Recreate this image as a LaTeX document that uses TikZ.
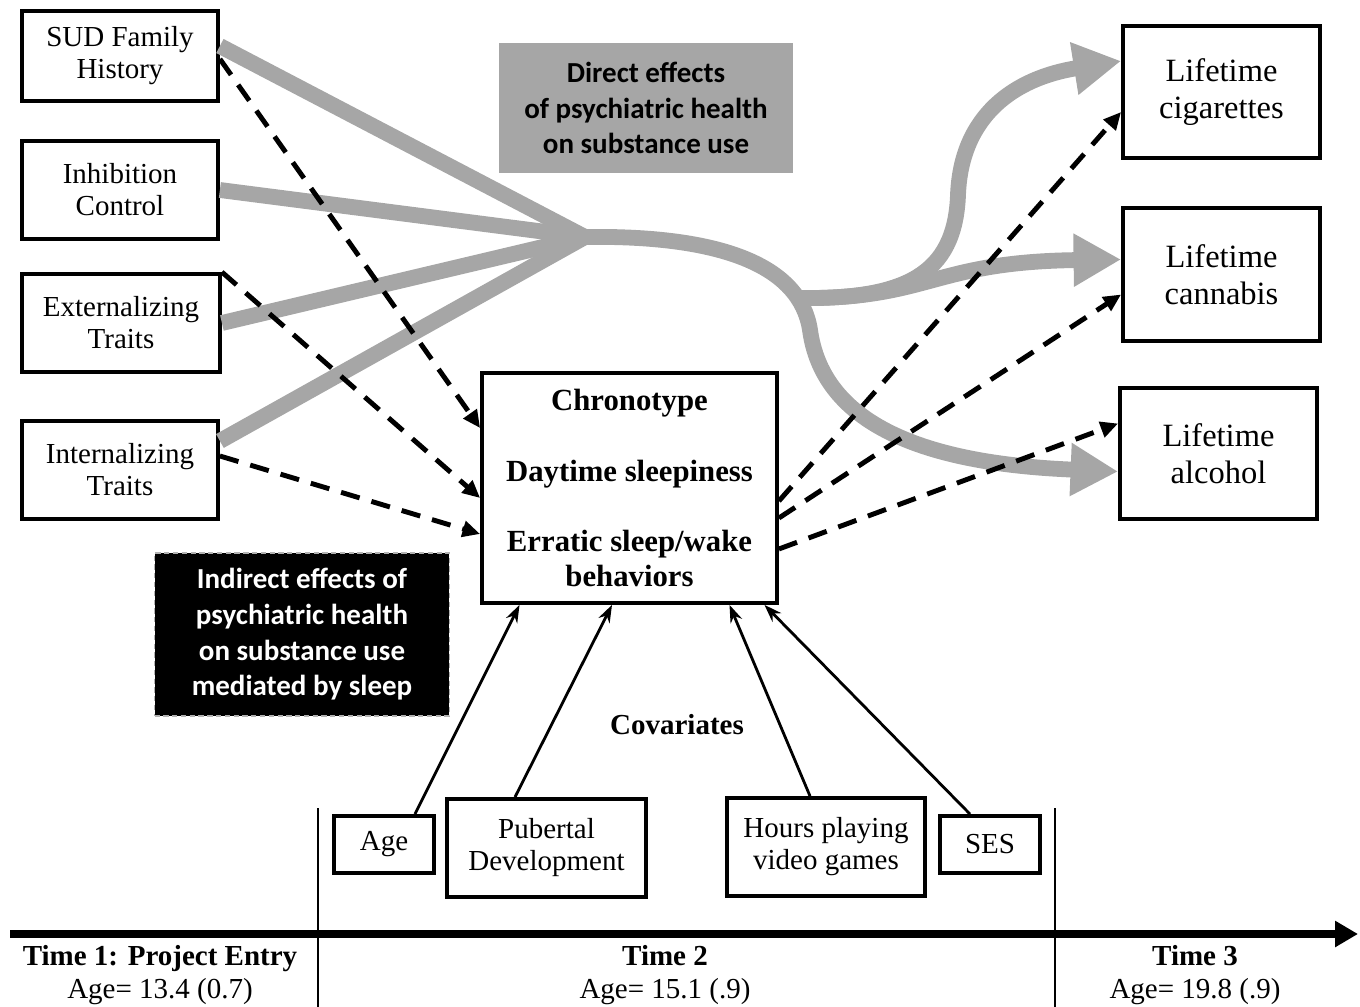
\documentclass[tikz,border=0pt]{standalone}
\usepackage{fontspec}
\setmainfont{Liberation Serif}
\newfontfamily\calibfont{Carlito}
\usetikzlibrary{arrows.meta,calc,positioning}
\definecolor{pathgray}{RGB}{166,166,166}

\begin{document}
\begin{tikzpicture}[x=0.02cm,y=-0.02cm,
  varbox/.style={draw,line width=2.2pt,align=center,inner sep=0pt,font=\fontsize{16.5}{18.2}\selectfont},
  leftbox/.style={varbox,minimum width=3.92cm,minimum height=1.96cm},
  outbox/.style={varbox,minimum width=3.94cm,minimum height=2.64cm,font=\fontsize{18.5}{21}\selectfont},
  covbox/.style={varbox,minimum height=1.96cm,minimum width=3.97cm},
  effectbox/.style={align=center,inner sep=0pt,minimum width=5.9cm,font=\calibfont\bfseries\fontsize{16.5}{20}\selectfont},
  directpath/.style={draw=pathgray,line width=9pt},
  bigtip/.style={-{Triangle[length=0.95cm,width=1cm]}},
  medpath/.style={line width=2.8pt,dash pattern=on 11pt off 7pt,-{Triangle[length=10pt,width=9pt]}},
  covpath/.style={line width=1.6pt,-{Stealth[length=10pt,width=7pt]}},
  timelabel/.style={align=center,font=\fontsize{16.5}{18.8}\selectfont}]
  \useasboundingbox (0,0) rectangle (1360,1007);

  \node[leftbox,minimum height=1.8cm] (sud) at (120,56) {SUD Family\\History};
  \node[leftbox] (inhib) at (120,190) {Inhibition\\Control};
  \node[leftbox,minimum width=3.96cm] (ext) at (121,323) {Externalizing\\Traits};
  \node[leftbox] (int) at (120,470) {Internalizing\\Traits};

  \node[outbox] (cig) at (1221.5,92) {Lifetime\\cigarettes};
  \node[outbox,minimum height=2.66cm] (can) at (1221.5,274.5) {Lifetime\\cannabis};
  \node[outbox,minimum height=2.62cm] (alc) at (1218.5,453.5) {Lifetime\\alcohol};

  \node[varbox,minimum width=5.9cm,minimum height=4.6cm,font=\bfseries\fontsize{17.5}{19.9}\selectfont] (sleep) at (629.5,488)
    {Chronotype\\[0.72cm]Daytime sleepiness\\[0.72cm]Erratic sleep/wake\\behaviors};

  \node[effectbox,fill=pathgray,minimum height=2.6cm,minimum width=5.88cm] (direct) at (646,108)
    {Direct effects\\of psychiatric health\\on substance use};
  \node[effectbox,fill=black,text=white,draw=gray!60,densely dashed,line width=0.6pt,minimum height=3.26cm,
    font=\calibfont\bfseries\fontsize{16.5}{20.3}\selectfont] (indirect) at (302,634.5)
    {Indirect effects of\\psychiatric health\\on substance use\\mediated by sleep};

  \node[font=\bfseries\fontsize{16.5}{18}\selectfont] (covar) at (677,725) {Covariates};
  \node[varbox,minimum width=2cm,minimum height=1.14cm] (age) at (384,844.5) {Age};
  \node[covbox] (pub) at (546.5,848) {Pubertal\\Development};
  \node[covbox] (hours) at (826,847) {Hours playing\\video games};
  \node[varbox,minimum width=2cm,minimum height=1.14cm] (ses) at (990,844.5) {SES};

  \coordinate (hub) at (585,237);
  \coordinate (split) at (795,298);

  \draw[directpath] ([yshift=0.2cm]sud.east) -- (hub);
  \draw[directpath] (inhib.east) -- (hub);
  \draw[directpath] (ext.east) -- (hub);
  \draw[directpath] ([yshift=0.58cm]int.east) -- (hub);
  \draw[directpath,bigtip] (hub) .. controls (720,235) and (800,265) .. (810,330)
    .. controls (825,440) and (960,465) .. ([yshift=-0.36cm]alc.west);
  \draw[directpath,bigtip] (split) .. controls (930,300) and (930,262) .. ([yshift=0.3cm]can.west);
  \draw[directpath,bigtip] (split) .. controls (905,300) and (955,275) .. (958,195)
    .. controls (961,115) and (1015,78) .. ([yshift=0.62cm]cig.west);

  \draw[medpath] ([yshift=-0.06cm]sud.east) -- ([yshift=1.2cm]sleep.west);
  \draw[medpath] (ext.north east) -- ([yshift=-0.2cm]sleep.west);
  \draw[medpath] ([yshift=0.28cm]int.east) -- ([yshift=-0.92cm]sleep.west);
  \draw[medpath] ([yshift=-0.26cm]sleep.east) -- ([yshift=-0.4cm]cig.west);
  \draw[medpath] ([yshift=-0.6cm]sleep.east) -- ([yshift=-0.4cm]can.west);
  \draw[medpath] ([yshift=-1.22cm]sleep.east) -- ([yshift=0.6cm]alc.west);

  \draw[covpath] ([xshift=0.62cm]age.north) -- ([xshift=-2.2cm]sleep.south);
  \draw[covpath] ([xshift=-0.63cm]pub.north) -- ([xshift=-0.35cm]sleep.south);
  \draw[covpath] ([xshift=-0.32cm]hours.north) -- ([xshift=2cm]sleep.south);
  \draw[covpath] ([xshift=-0.4cm]ses.north) -- ([xshift=2.7cm]sleep.south);

  \draw[line width=1.4pt] (318,808) -- (318,1007);
  \draw[line width=1.4pt] (1055,808) -- (1055,1007);
  \draw[line width=4.5pt,-{Triangle[length=0.46cm,width=0.5cm]}] (10,934) -- (1358,934);

  \node[timelabel] (time1) at (160,975) {\textbf{Time 1: Project Entry}\\Age= 13.4 (0.7)};
  \node[timelabel] (time2) at (665,975) {\textbf{Time 2}\\Age= 15.1 (.9)};
  \node[timelabel] (time3) at (1195,975) {\textbf{Time 3}\\Age= 19.8 (.9)};
\end{tikzpicture}
\end{document}
